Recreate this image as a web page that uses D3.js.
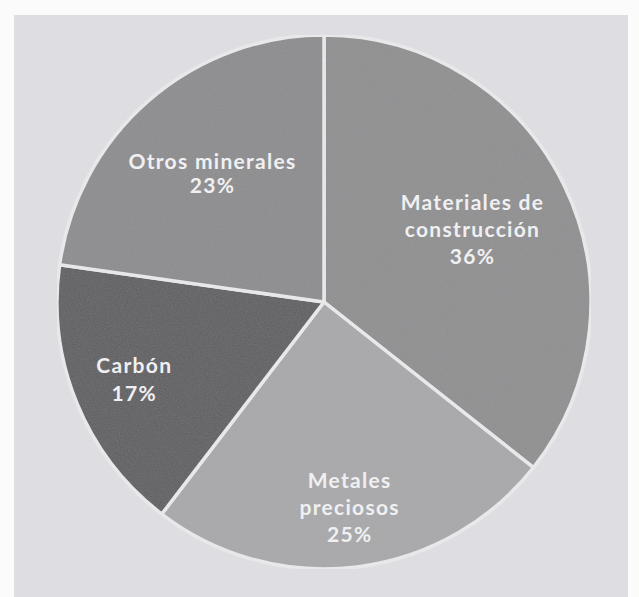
<!DOCTYPE html>
<html>
<head>
<meta charset="utf-8">
<script src="https://cdn.jsdelivr.net/npm/d3@7"></script>
<style>
  html, body { margin: 0; padding: 0; background: #fbfbfc; }
  svg { display: block; }
</style>
</head>
<body>
<svg id="chart" width="639" height="597"></svg>
<script>
// ---- data ----
const categories = ["Materiales de construcción", "Metales preciosos", "Carbón", "Otros minerales"];
const labelLines = [["Materiales de", "construcción"], ["Metales", "preciosos"], ["Carbón"], ["Otros minerales"]];
const values = [36, 25, 17, 23];
const colors = ["#8e8e90", "#a8a8aa", "#5c5c5f", "#8b8b8d"];

// ---- layout ----
const W = 639, H = 597;
const cx = 324, cy = 302, R = 267;
const svg = d3.select("#chart");

const defs = svg.append("defs");
const f = defs.append("filter").attr("id", "grain").attr("x", 0).attr("y", 0).attr("width", "100%").attr("height", "100%");
f.append("feTurbulence").attr("type", "fractalNoise").attr("baseFrequency", 0.9).attr("numOctaves", 2).attr("seed", 3).attr("result", "n");
f.append("feColorMatrix").attr("in", "n").attr("type", "matrix")
  .attr("values", "0 0 0 0 0.5  0 0 0 0 0.5  0 0 0 0 0.5  0 0 0 0.18 0").attr("result", "g");
f.append("feComposite").attr("in", "g").attr("in2", "SourceGraphic").attr("operator", "in").attr("result", "gc");
f.append("feMerge").selectAll("feMergeNode").data(["SourceGraphic", "gc"]).join("feMergeNode").attr("in", d => d);

// background panel
svg.append("rect").attr("x", 14).attr("y", 15).attr("width", 614).attr("height", H - 15).attr("fill", "#dedee2");

const pie = d3.pie().sort(null).value(d => d)(values);
const arc = d3.arc().innerRadius(0).outerRadius(R);

const g = svg.append("g").attr("transform", `translate(${cx},${cy})`);
g.append("g").attr("filter", "url(#grain)")
  .selectAll("path").data(pie).join("path")
  .attr("d", arc)
  .attr("fill", (d, i) => colors[i])
  .attr("stroke", "#ececee")
  .attr("stroke-width", 3.5)
  .attr("stroke-linejoin", "round");

// labels
const labelR = [165, 207, 205, 170];
const lineH = [27, 27, 28, 24];
const fs = 21;
pie.forEach((d, i) => {
  const a = (d.startAngle + d.endAngle) / 2;
  const lx = Math.sin(a) * labelR[i];
  const ly = -Math.cos(a) * labelR[i];
  const lines = labelLines[i].concat([values[i] + "%"]);
  const n = lines.length;
  const t = g.append("text")
    .attr("text-anchor", "middle")
    .attr("font-family", "Lato, 'Open Sans', sans-serif")
    .attr("font-weight", 700)
    .attr("font-size", fs)
    .attr("letter-spacing", 1.3)
    .attr("fill", "#f0f0f2");
  lines.forEach((s, k) => {
    t.append("tspan").attr("x", lx)
      .attr("y", ly + (k - (n - 1) / 2) * lineH[i] + fs * 0.35)
      .text(s);
  });
});
</script>
</body>
</html>
